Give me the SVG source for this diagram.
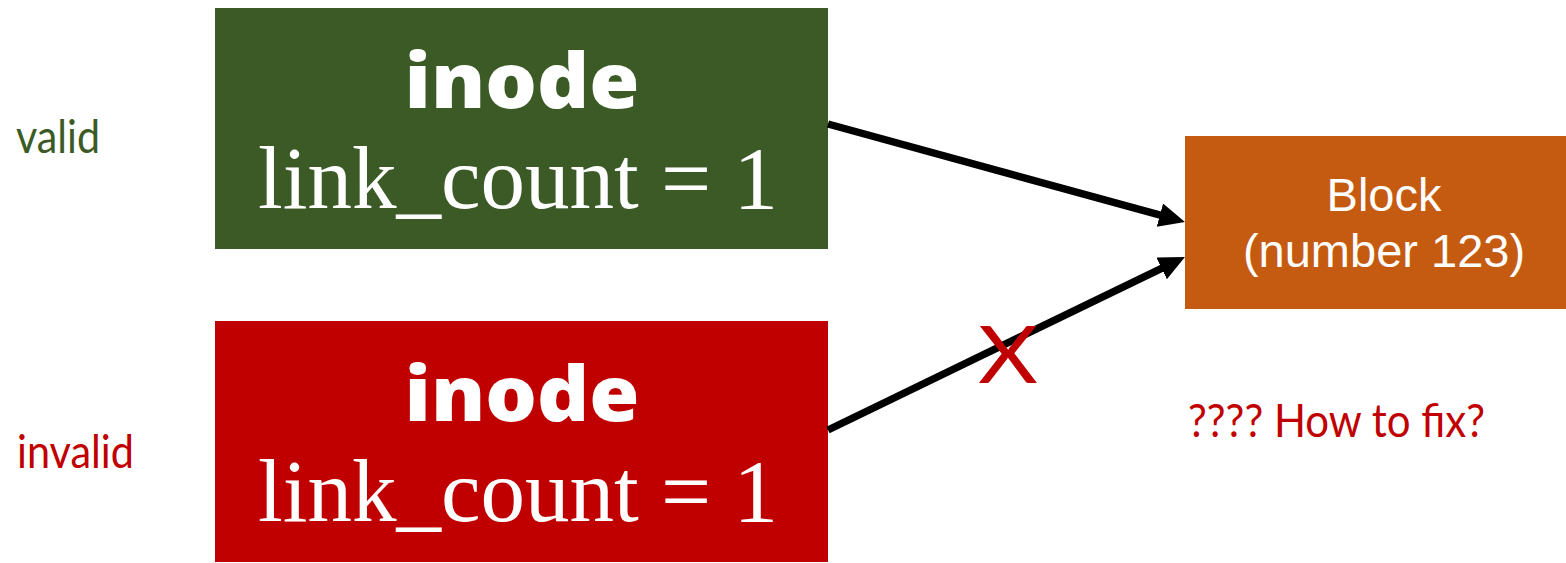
<svg xmlns="http://www.w3.org/2000/svg" width="1566" height="563" viewBox="0 0 1566 563">
<style>
.title{font-family:"Open Sans","DejaVu Sans",sans-serif;font-weight:800;font-size:76px;fill:#fff;text-anchor:middle}
.count{font-family:"Liberation Serif","Times New Roman",serif;font-size:88px;fill:#fff;text-anchor:middle}
.side{font-family:Lato,"Noto Sans",sans-serif;font-size:46px}
.blk{font-family:"Liberation Sans",Arial,sans-serif;font-size:47px;fill:#fff;text-anchor:middle}
.conn{stroke:#000;stroke-width:7.5;fill:none}
</style>
<defs>
<marker id="ah" markerUnits="userSpaceOnUse" markerWidth="30" markerHeight="26" refX="8" refY="12" orient="auto">
<path d="M0,0 L26,12 L0,24 z" fill="#000"/>
</marker>
</defs>
<rect width="1566" height="563" fill="#fff"/>
<text class="side" x="16" y="153" fill="#3b5a26" textLength="84" lengthAdjust="spacingAndGlyphs">valid</text>
<text class="side" x="17" y="468" fill="#c00000" textLength="117" lengthAdjust="spacingAndGlyphs">invalid</text>
<g id="inode-valid">
<rect x="215" y="8" width="613" height="241" fill="#3b5a26"/>
<text class="title" x="522" y="108" textLength="235" lengthAdjust="spacingAndGlyphs">inode</text>
<text class="count" x="518" y="208" textLength="520" lengthAdjust="spacingAndGlyphs">link_count = 1</text>
</g>
<g id="inode-invalid">
<rect x="215" y="321" width="613" height="241" fill="#c00000"/>
<text class="title" x="522" y="421" textLength="235" lengthAdjust="spacingAndGlyphs">inode</text>
<text class="count" x="518" y="521" textLength="520" lengthAdjust="spacingAndGlyphs">link_count = 1</text>
</g>
<g id="block">
<rect x="1185" y="136" width="381" height="173" fill="#c55a11"/>
<text class="blk" x="1384" y="211">Block</text>
<text class="blk" x="1384" y="267">(number 123)</text>
</g>
<g id="connectors">
<line class="conn" x1="828" y1="124" x2="1167.6" y2="217.2" marker-end="url(#ah)"/>
<line class="conn" x1="828" y1="430" x2="1168.8" y2="264.9" marker-end="url(#ah)"/>
</g>
<text x="978" y="383" font-family="Lato,'Noto Sans',sans-serif" font-size="80" fill="#c00000" textLength="60" lengthAdjust="spacingAndGlyphs">X</text>
<text class="side" x="1188" y="437" fill="#c00000" textLength="297" lengthAdjust="spacingAndGlyphs">???? How to fix?</text>
</svg>
